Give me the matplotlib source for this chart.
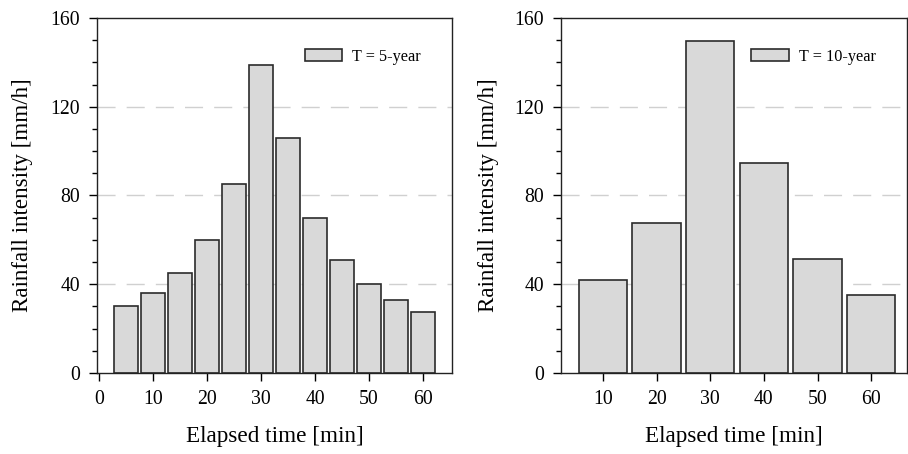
import matplotlib
matplotlib.use("Agg")
import matplotlib.pyplot as plt
from matplotlib.ticker import MultipleLocator

plt.rcParams['font.family'] = ['Liberation Serif', 'DejaVu Serif']

# rainfall hyetographs
time_5yr = [5, 10, 15, 20, 25, 30, 35, 40, 45, 50, 55, 60]
rain_5yr = [30, 36, 45, 60, 85, 139, 106, 70, 51, 40, 33, 27.5]
time_10yr = [10, 20, 30, 40, 50, 60]
rain_10yr = [42, 67.5, 149.5, 94.5, 51.5, 35]

fill = '#d9d9d9'
edge = '#2b2b2b'

fig = plt.figure(figsize=(9.08, 4.54), dpi=100)
ax1 = fig.add_axes([0.1068, 0.1784, 0.391, 0.782])
ax2 = fig.add_axes([0.6175, 0.1784, 0.381, 0.782])

def style(ax, xlim, xticks):
    ax.set_ylim(0, 160)
    ax.set_xlim(*xlim)
    ax.set_xticks(xticks)
    ax.yaxis.set_major_locator(MultipleLocator(40))
    ax.yaxis.set_minor_locator(MultipleLocator(10))
    ax.tick_params(axis='both', which='major', direction='out', labelsize=14.2,
                   length=6, width=1, pad=6)
    ax.tick_params(axis='y', which='minor', direction='out', length=3.5, width=1)
    ax.tick_params(axis='x', which='minor', bottom=False)
    for y in [40, 80, 120]:
        ax.axhline(y, color='#d0d0d0', lw=1, dashes=(13, 8), zorder=0)
    for s in ax.spines.values():
        s.set_linewidth(1)
        s.set_color('#222222')
    ax.set_xlabel('Elapsed time [min]', fontsize=16.7)
    ax.set_ylabel('Rainfall intensity [mm/h]', fontsize=16.6)
    ax.xaxis.set_label_coords(0.5, -0.15)
    ax.yaxis.set_label_coords(-0.179, 0.5)
    ax.legend(loc='upper right', frameon=False, fontsize=11.7,
              handlelength=2.3, handleheight=0.75, handletextpad=0.6,
              borderaxespad=1.2, bbox_to_anchor=(0.985, 0.986))

ax1.bar(time_5yr, rain_5yr, width=4.5, color=fill, edgecolor=edge,
        linewidth=1.2, label='T = 5-year', zorder=2)
style(ax1, (-0.4, 65.4), [0, 10, 20, 30, 40, 50, 60])

ax2.bar(time_10yr, rain_10yr, width=9, color=fill, edgecolor=edge,
        linewidth=1.2, label='T = 10-year', zorder=2)
style(ax2, (2.15, 66.6), [10, 20, 30, 40, 50, 60])

fig.savefig('out.png', dpi=100)
